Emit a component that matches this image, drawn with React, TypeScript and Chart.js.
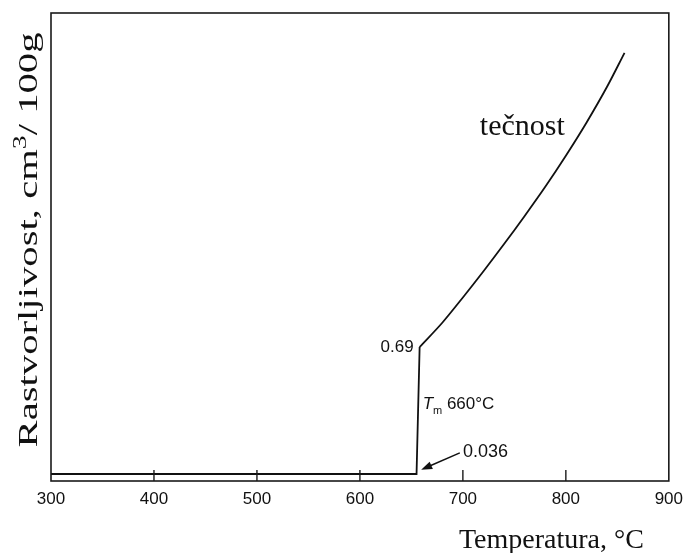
import React, { useEffect, useRef } from 'react';
import { Chart, registerables } from 'chart.js';

Chart.register(...registerables);

// ---- data ----
const xTickValues = [300, 400, 500, 600, 700, 800, 900];
const solidTemps = [300, 655, 658];
const solidVals = [0.036, 0.036, 0.69];
const liquidTemps = [658, 680, 700, 720, 740, 760, 780, 800, 820, 840, 857];
const liquidVals = [0.69, 0.815, 0.945, 1.08, 1.22, 1.365, 1.515, 1.675, 1.845, 2.03, 2.205];
const xTitle = 'Temperatura, °C';
const yTitleParts = ['Rastvorljivost, cm', '3', '/ 100g'];
const liquidLabel = 'tečnost';
const meltSymbol = 'T';
const meltSub = 'm';
const meltText = ' 660°C';
const lowLabel = '0.036';
const highLabel = '0.69';

const SERIF = '"Liberation Serif", "Times New Roman", serif';
const SANS = '"Liberation Sans", Arial, sans-serif';

const annotations = {
  id: 'annotations',
  afterDraw(chart: any) {
    const { ctx, chartArea: ca } = chart;
    const xs = chart.scales.x;
    const ys = chart.scales.y;
    const px = (v: number) => xs.getPixelForValue(v);
    const py = (v: number) => ys.getPixelForValue(v);
    ctx.save();

    // frame
    ctx.strokeStyle = '#1a1a1a';
    ctx.lineWidth = 1.6;
    ctx.strokeRect(ca.left, ca.top, ca.right - ca.left, ca.bottom - ca.top);

    // inward ticks on the x axis
    ctx.lineWidth = 1.4;
    xTickValues.forEach((t) => {
      if (t === xs.min || t === xs.max) return;
      const x = px(t);
      ctx.beginPath();
      ctx.moveTo(x, ca.bottom);
      ctx.lineTo(x, ca.bottom - 11);
      ctx.stroke();
    });

    ctx.fillStyle = '#111';

    // liquid label
    ctx.font = `30px ${SERIF}`;
    ctx.textAlign = 'left';
    ctx.textBaseline = 'alphabetic';
    ctx.fillText(liquidLabel, px(716.5), py(1.78));

    // 0.69 label
    const topX = px(solidTemps[2]);
    const topY = py(solidVals[2]);
    ctx.font = `17px ${SANS}`;
    ctx.textAlign = 'right';
    ctx.textBaseline = 'middle';
    ctx.fillText(highLabel, topX - 6, topY);

    // T_m 660°C
    let tx = topX + 3;
    const ty = py(0.395);
    ctx.textAlign = 'left';
    ctx.font = `italic 17px ${SANS}`;
    ctx.fillText(meltSymbol, tx, ty);
    tx += ctx.measureText(meltSymbol).width;
    ctx.font = `11px ${SANS}`;
    ctx.fillText(meltSub, tx, ty + 7);
    tx += ctx.measureText(meltSub).width;
    ctx.font = `17px ${SANS}`;
    ctx.fillText(meltText, tx, ty);

    // 0.036 label
    ctx.font = `18px ${SANS}`;
    ctx.fillText(lowLabel, px(700), py(0.148));

    // arrow
    const ax0 = px(697), ay0 = py(0.145);
    const ax1 = px(659.5), ay1 = py(0.058);
    const ang = Math.atan2(ay1 - ay0, ax1 - ax0);
    ctx.strokeStyle = '#111';
    ctx.lineWidth = 1.5;
    ctx.beginPath();
    ctx.moveTo(ax0, ay0);
    ctx.lineTo(ax1 - 8 * Math.cos(ang), ay1 - 8 * Math.sin(ang));
    ctx.stroke();
    ctx.beginPath();
    ctx.moveTo(ax1, ay1);
    ctx.lineTo(ax1 - 11 * Math.cos(ang) + 4 * Math.sin(ang), ay1 - 11 * Math.sin(ang) - 4 * Math.cos(ang));
    ctx.lineTo(ax1 - 11 * Math.cos(ang) - 4 * Math.sin(ang), ay1 - 11 * Math.sin(ang) + 4 * Math.cos(ang));
    ctx.closePath();
    ctx.fill();

    // x title
    ctx.font = `28px ${SERIF}`;
    ctx.textAlign = 'right';
    ctx.textBaseline = 'alphabetic';
    ctx.fillText(xTitle, ca.right - 25, ca.bottom + 67);

    // y title (rotated, stretched to reference length)
    ctx.save();
    ctx.translate(ca.left - 14, (ca.top + ca.bottom) / 2 - 7);
    ctx.rotate(-Math.PI / 2);
    ctx.font = `28px ${SERIF}`;
    const w1 = ctx.measureText(yTitleParts[0]).width;
    const w3 = ctx.measureText(yTitleParts[2]).width;
    ctx.font = `19px ${SERIF}`;
    const w2 = ctx.measureText(yTitleParts[1]).width;
    const total = w1 + w2 + w3;
    const target = 415;
    ctx.scale(target / total, 1);
    ctx.textAlign = 'left';
    let cx = -total / 2;
    ctx.font = `28px ${SERIF}`;
    ctx.fillText(yTitleParts[0], cx, 0);
    cx += w1;
    ctx.font = `19px ${SERIF}`;
    ctx.fillText(yTitleParts[1], cx, -11);
    cx += w2;
    ctx.font = `28px ${SERIF}`;
    ctx.fillText(yTitleParts[2], cx, 0);
    ctx.restore();

    ctx.restore();
  },
};

export default function App() {
  const ref = useRef<HTMLCanvasElement>(null);
  useEffect(() => {
    const canvas = ref.current!;
    const pts = (xs: number[], ys: number[]) => xs.map((x, i) => ({ x, y: ys[i] }));
    const chart = new Chart(canvas, {
      type: 'line',
      data: {
        datasets: [
          {
            data: pts(solidTemps, solidVals),
            borderColor: '#111',
            borderWidth: 1.8,
            pointRadius: 0,
            tension: 0,
            fill: false,
          },
          {
            data: pts(liquidTemps, liquidVals),
            borderColor: '#111',
            borderWidth: 1.8,
            pointRadius: 0,
            cubicInterpolationMode: 'monotone',
            fill: false,
          },
        ],
      },
      options: {
        animation: false,
        responsive: false,
        layout: { padding: { top: 13, right: 19, left: 0, bottom: 0 } },
        plugins: { legend: { display: false }, tooltip: { enabled: false } },
        scales: {
          x: {
            type: 'linear',
            min: 300,
            max: 900,
            afterBuildTicks: (s: any) => {
              s.ticks = xTickValues.map((v) => ({ value: v }));
            },
            ticks: {
              font: { family: SANS, size: 17 },
              color: '#111',
              padding: 8,
            },
            grid: { display: false, drawTicks: false },
            border: { display: false },
            afterFit: (s: any) => {
              s.height = 72;
            },
          },
          y: {
            type: 'linear',
            min: 0,
            max: 2.41,
            ticks: { display: false },
            grid: { display: false, drawTicks: false },
            border: { display: false },
            afterFit: (s: any) => {
              s.width = 51;
            },
          },
        },
      } as any,
      plugins: [annotations],
    });
    return () => chart.destroy();
  }, []);
  return (
    <div style={{ position: 'absolute', left: 0, top: 0, width: 691, height: 553, background: '#fff' }}>
      <canvas ref={ref} width={691} height={553} style={{ display: 'block' }} />
    </div>
  );
}
